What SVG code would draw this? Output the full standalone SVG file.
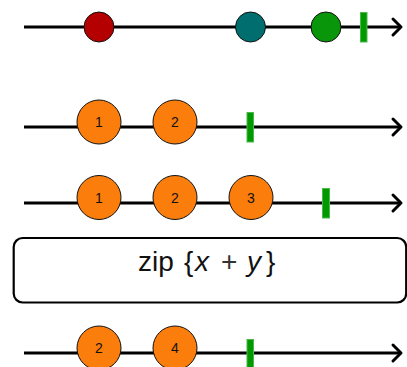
<svg xmlns="http://www.w3.org/2000/svg" width="407" height="367" viewBox="0 0 407 367">
<style>
.tl{stroke:#000;stroke-width:3;fill:none}
.ah{stroke:#000;stroke-width:3;fill:none;stroke-linecap:round;stroke-linejoin:round}
.m{stroke:#111;stroke-width:1}
.o{fill:#fb7d0b}
.bar{fill:#009900;stroke:#4cb84c;stroke-width:1}
.lb{font-family:"Liberation Sans",Arial,sans-serif;font-size:14px;fill:#111;text-anchor:middle}
.op{font-family:"Liberation Sans",Arial,sans-serif;font-size:28px;fill:#111}
</style>
<g id="connectors">
<line class="tl" x1="24" y1="27" x2="400" y2="27"/><path class="ah" d="M393,19 L401,27 L393,35"/>
<line class="tl" x1="24" y1="127" x2="400" y2="127"/><path class="ah" d="M393,119 L401,127 L393,135"/>
<line class="tl" x1="24" y1="203" x2="400" y2="203"/><path class="ah" d="M393,195 L401,203 L393,211"/>
<line class="tl" x1="24" y1="353" x2="400" y2="353"/><path class="ah" d="M393,345 L401,353 L393,361"/>
</g>
<g id="row1">
<circle class="m" cx="99" cy="27" r="15" fill="#b40000"/>
<circle class="m" cx="250.5" cy="27" r="15" fill="#006e6e"/>
<circle class="m" cx="326" cy="27" r="15" fill="#0a960a"/>
<rect class="bar" x="360.5" y="12.5" width="6.5" height="29.5"/>
</g>
<g id="row2">
<g id="r2n1"><circle class="m o" cx="99" cy="122" r="22"/><text class="lb" x="99" y="127">1</text></g>
<g id="r2n2"><circle class="m o" cx="175" cy="122" r="22"/><text class="lb" x="175" y="127">2</text></g>
<rect class="bar" x="247" y="112.5" width="6.5" height="29.5"/>
</g>
<g id="row3">
<g id="r3n1"><circle class="m o" cx="99" cy="197.5" r="22"/><text class="lb" x="99" y="202.5">1</text></g>
<g id="r3n2"><circle class="m o" cx="175" cy="197.5" r="22"/><text class="lb" x="175" y="202.5">2</text></g>
<g id="r3n3"><circle class="m o" cx="251" cy="197.5" r="22"/><text class="lb" x="251" y="202.5">3</text></g>
<rect class="bar" x="322.5" y="188.5" width="7" height="29.5"/>
</g>
<g id="zip">
<rect x="13.7" y="238" width="392.5" height="64.5" rx="9" fill="#fff" stroke="#000" stroke-width="2.2"/>
<text class="op" y="271"><tspan x="138">zip</tspan><tspan x="184">{</tspan><tspan x="195" font-style="italic">x</tspan><tspan x="221" font-weight="300" fill="#333">+</tspan><tspan x="247" font-style="italic">y</tspan><tspan x="266">}</tspan></text>
</g>
<g id="row5">
<g id="r5n1"><circle class="m o" cx="99" cy="348" r="22"/><text class="lb" x="99" y="353">2</text></g>
<g id="r5n2"><circle class="m o" cx="175" cy="348" r="22"/><text class="lb" x="175" y="353">4</text></g>
<rect class="bar" x="247" y="339.5" width="6.5" height="30"/>
</g>
</svg>
